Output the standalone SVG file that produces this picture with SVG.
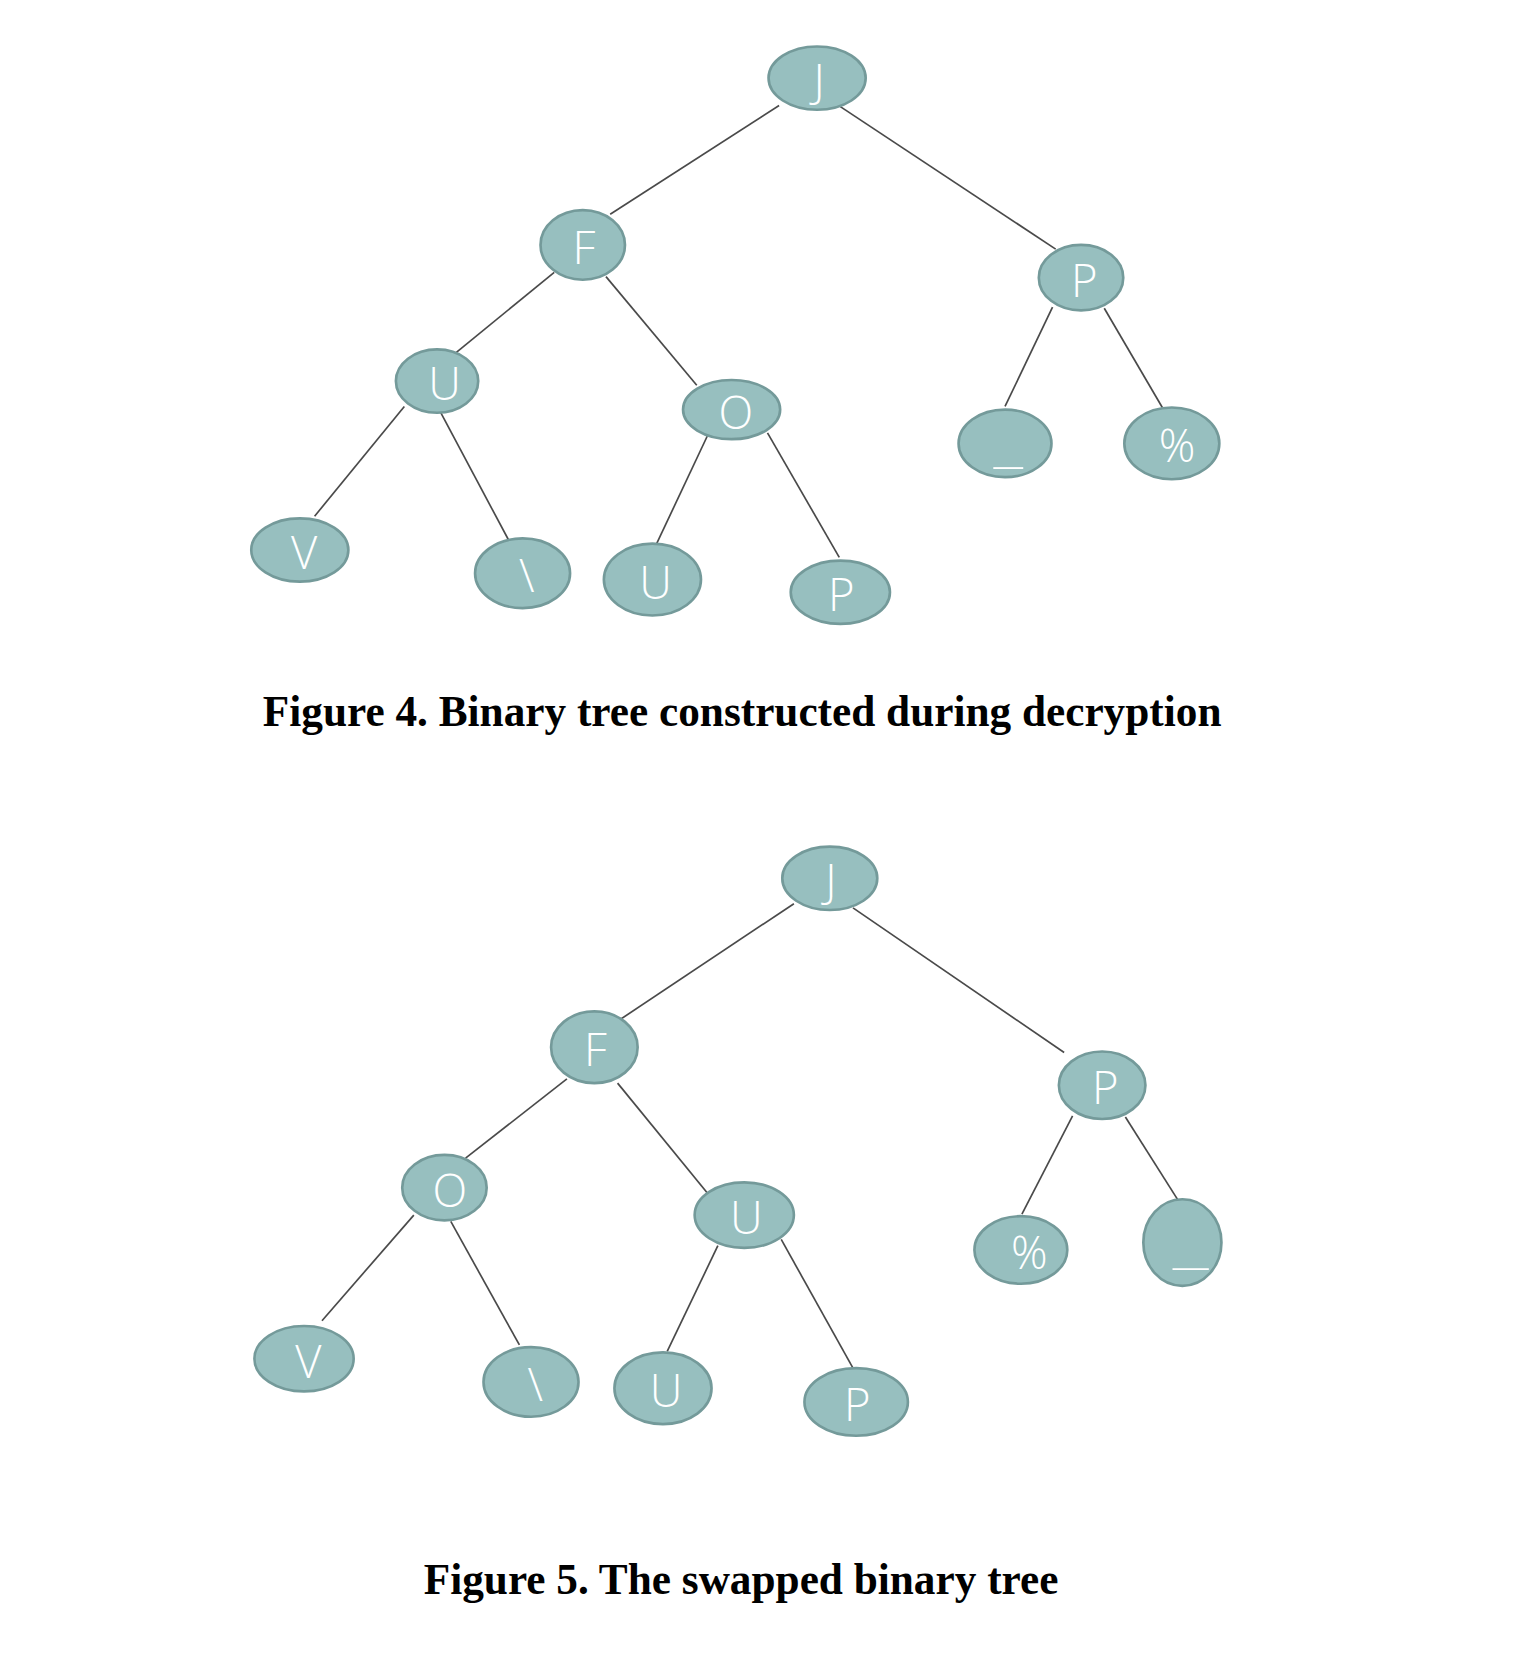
<svg xmlns="http://www.w3.org/2000/svg" width="1516" height="1660" viewBox="0 0 1516 1660">
<style>
.n ellipse{fill:#97bfbf;stroke:#749a9a;stroke-width:2.5}
.n text{fill:#ffffff;font-family:"Open Sans","DejaVu Sans",sans-serif;font-weight:300;font-size:43px;text-anchor:middle}
.e line{stroke:#4a4a4a;stroke-width:1.6}
.cap{font-family:"Liberation Serif","Times New Roman",serif;font-weight:bold;font-size:41px;text-anchor:middle;fill:#000}
</style>
<rect width="1516" height="1660" fill="#ffffff"/>
<g transform="scale(1.0557)">
<g id="connectors4" class="e">
<line x1="738" y1="100" x2="578" y2="203"/>
<line x1="796" y1="101" x2="1000" y2="236"/>
<line x1="525" y1="258" x2="432" y2="334"/>
<line x1="574" y1="262" x2="660" y2="365"/>
<line x1="383" y1="385" x2="298" y2="489"/>
<line x1="417" y1="390" x2="482" y2="512"/>
<line x1="670" y1="413" x2="622" y2="515"/>
<line x1="727" y1="410" x2="795" y2="528"/>
<line x1="997" y1="291" x2="952" y2="385"/>
<line x1="1046" y1="292" x2="1101" y2="386"/>
</g>
<g id="f4-J" class="n"><ellipse cx="774" cy="74" rx="46" ry="30"/><text x="776" y="92">J</text></g>
<g id="f4-F" class="n"><ellipse cx="552" cy="232" rx="40" ry="33"/><text x="553" y="250">F</text></g>
<g id="f4-P" class="n"><ellipse cx="1024" cy="263" rx="40" ry="31"/><text x="1027" y="281">P</text></g>
<g id="f4-U" class="n"><ellipse cx="414" cy="361" rx="39" ry="30"/><text x="421" y="379">U</text></g>
<g id="f4-O" class="n"><ellipse cx="693" cy="388" rx="46" ry="28"/><text x="697" y="406">O</text></g>
<g id="f4-us" class="n"><ellipse cx="952" cy="420" rx="44" ry="32"/><text x="955" y="439" textLength="28" lengthAdjust="spacingAndGlyphs">_</text></g>
<g id="f4-pct" class="n"><ellipse cx="1110" cy="420" rx="45" ry="34"/><text x="1115" y="438">%</text></g>
<g id="f4-V" class="n"><ellipse cx="284" cy="521" rx="46" ry="30"/><text x="288" y="539">V</text></g>
<g id="f4-bs" class="n"><ellipse cx="495" cy="543" rx="45" ry="33"/><text x="499" y="561">\</text></g>
<g id="f4-U2" class="n"><ellipse cx="618" cy="549" rx="46" ry="34"/><text x="621" y="567">U</text></g>
<g id="f4-P2" class="n"><ellipse cx="796" cy="561" rx="47" ry="30"/><text x="797" y="579">P</text></g>
<text class="cap" x="703" y="688">Figure 4. Binary tree constructed during decryption</text>

<g id="connectors5" class="e">
<line x1="752" y1="856" x2="587" y2="966"/>
<line x1="808" y1="860" x2="1008" y2="997"/>
<line x1="537" y1="1022" x2="441" y2="1097"/>
<line x1="585" y1="1026" x2="670" y2="1130"/>
<line x1="392" y1="1151" x2="305" y2="1251"/>
<line x1="427" y1="1157" x2="492" y2="1274"/>
<line x1="680" y1="1180" x2="632" y2="1280"/>
<line x1="740" y1="1174" x2="808" y2="1296"/>
<line x1="1016" y1="1057" x2="968" y2="1150"/>
<line x1="1066" y1="1058" x2="1116" y2="1137"/>
</g>
<g id="f5-J" class="n"><ellipse cx="786" cy="832" rx="45" ry="30"/><text x="787" y="850">J</text></g>
<g id="f5-F" class="n"><ellipse cx="563" cy="992" rx="41" ry="34"/><text x="564" y="1010">F</text></g>
<g id="f5-P" class="n"><ellipse cx="1044" cy="1028" rx="41" ry="32"/><text x="1047" y="1046">P</text></g>
<g id="f5-O" class="n"><ellipse cx="421" cy="1125" rx="40" ry="31"/><text x="426" y="1143">O</text></g>
<g id="f5-U" class="n"><ellipse cx="705" cy="1151" rx="47" ry="31"/><text x="707" y="1169">U</text></g>
<g id="f5-pct" class="n"><ellipse cx="967" cy="1184" rx="44" ry="32"/><text x="975" y="1202">%</text></g>
<g id="f5-us" class="n"><ellipse cx="1120" cy="1177" rx="37" ry="41"/><text x="1128" y="1197" textLength="34" lengthAdjust="spacingAndGlyphs">_</text></g>
<g id="f5-V" class="n"><ellipse cx="288" cy="1287" rx="47" ry="31"/><text x="292" y="1305">V</text></g>
<g id="f5-bs" class="n"><ellipse cx="503" cy="1309" rx="45" ry="33"/><text x="507" y="1327">\</text></g>
<g id="f5-U2" class="n"><ellipse cx="628" cy="1315" rx="46" ry="34"/><text x="631" y="1333">U</text></g>
<g id="f5-P2" class="n"><ellipse cx="811" cy="1328" rx="49" ry="32"/><text x="812" y="1346">P</text></g>
<text class="cap" x="702" y="1510">Figure 5. The swapped binary tree</text>
</g>
</svg>
